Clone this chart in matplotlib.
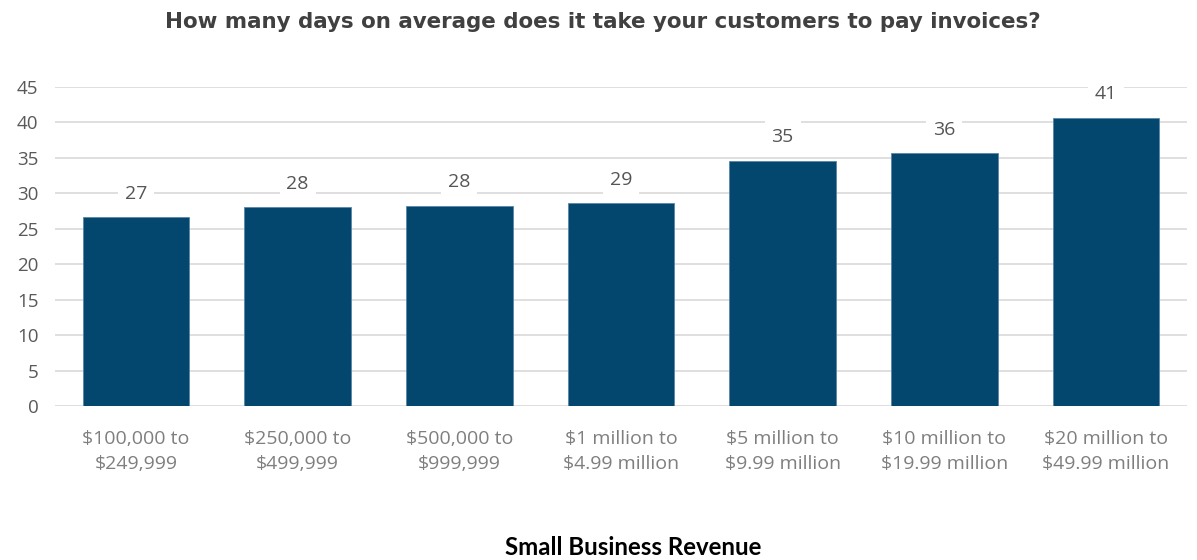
import matplotlib.pyplot as plt
import numpy as np

categories = ["$100,000 to\n$249,999", "$250,000 to\n$499,999", "$500,000 to\n$999,999",
              "$1 million to\n$4.99 million", "$5 million to\n$9.99 million",
              "$10 million to\n$19.99 million", "$20 million to\n$49.99 million"]
days = [26.6, 28.0, 28.2, 28.6, 34.6, 35.6, 40.6]
yticks = [0, 5, 10, 15, 20, 25, 30, 35, 40, 45]

BAR = '#03466e'
GRID = '#d9d9d9'

plt.rcParams['font.family'] = ['Open Sans', 'DejaVu Sans']

fig = plt.figure(figsize=(11.97, 5.6), dpi=100)
ax = fig.add_axes([0.046, 0.275, 0.9455, 0.57])

x = np.arange(len(categories))
bars = ax.bar(x, days, width=0.66, color=BAR, edgecolor='#5a86a8', linewidth=0.6, zorder=3)

for xi, v in zip(x, days):
    ax.annotate('{:.0f}'.format(v), (xi, v), xytext=(0, 17), textcoords='offset points',
                ha='center', va='center', fontsize=14, color='#555555',
                bbox=dict(boxstyle='square,pad=0.35', fc='white', ec='none'),
                zorder=4, annotation_clip=False)

ax.set_xlim(-0.5, len(categories) - 0.5)
ax.set_ylim(0, 45)
ax.set_yticks(yticks)
ax.yaxis.grid(True, color=GRID, linewidth=1.2, zorder=0)
ax.set_axisbelow(True)
for s in ax.spines.values():
    s.set_visible(False)

ax.set_xticks(x)
ax.set_xticklabels(categories, fontsize=14, color='#7f7f7f', linespacing=1.55)
ax.tick_params(axis='x', length=0, pad=17)
ax.tick_params(axis='y', length=0, pad=12, labelsize=13.5, labelcolor='#595959')

fig.text(0.504, 0.96, "How many days on average does it take your customers to pay invoices?",
         ha='center', va='center', fontsize=15.4, fontweight='bold', color='#404040',
         family=['DejaVu Sans'])
fig.text(0.529, 0.022, "Small Business Revenue", ha='center', va='center',
         fontsize=17.3, fontweight='bold', color='black',
         family=['Lato', 'DejaVu Sans'])

plt.savefig("out.png", dpi=100)
